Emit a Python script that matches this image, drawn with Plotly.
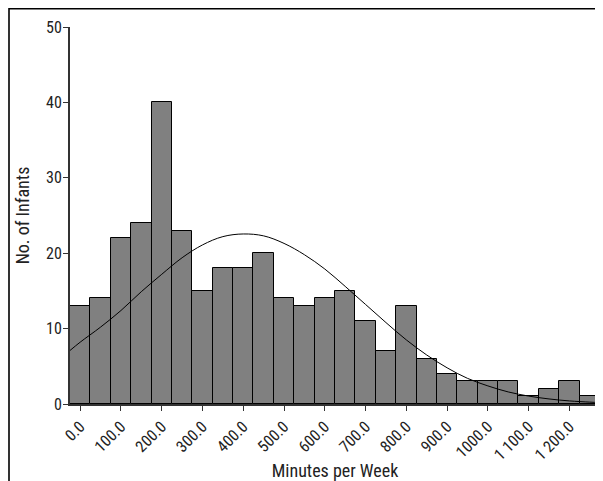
import plotly.graph_objects as go

# Histogram bins (bin centres, minutes per week) and counts
bin_centers = [0, 50, 100, 150, 200, 250, 300, 350, 400, 450, 500, 550, 600,
               650, 700, 750, 800, 850, 900, 950, 1000, 1050, 1100, 1150, 1200, 1250]
counts = [13, 14, 22, 24, 40, 23, 15, 18, 18, 20, 14, 13, 14,
          15, 11, 7, 13, 6, 4, 3, 3, 3, 1, 2, 3, 1]

# Fitted curve
curve_x = [-25, 0, 50, 100, 150, 200, 250, 300, 350, 400, 450, 500, 550, 600,
           650, 700, 750, 800, 850, 900, 950, 1000, 1050, 1100, 1150, 1200, 1250, 1275]
curve_y = [7.1, 8.2, 10.2, 12.4, 14.9, 17.2, 19.4, 21.1, 22.2, 22.55, 22.3, 21.3, 19.8, 17.9,
           15.6, 13.2, 10.8, 8.5, 6.5, 4.8, 3.4, 2.4, 1.6, 1.05, 0.67, 0.41, 0.25, 0.19]

tick_vals = [0, 100, 200, 300, 400, 500, 600, 700, 800, 900, 1000, 1100, 1200]
tick_text = ["0.0", "100.0", "200.0", "300.0", "400.0", "500.0", "600.0", "700.0",
             "800.0", "900.0", "1000.0", "1 100.0", "1 200.0"]
y_ticks = [0, 10, 20, 30, 40, 50]

FONT = "Liberation Sans Narrow, Arial Narrow, Roboto Condensed, Liberation Sans, sans-serif"

fig = go.Figure()
fig.add_trace(go.Bar(
    x=bin_centers, y=counts, width=50,
    marker=dict(color="#808080", line=dict(color="#000000", width=1)),
    showlegend=False, hoverinfo="x+y",
))
fig.add_trace(go.Scatter(
    x=curve_x, y=curve_y, mode="lines", line=dict(color="#000000", width=1, shape="spline"),
    showlegend=False, hoverinfo="skip",
))

# the page body adds an 8 px offset, so the figure is drawn 8 px smaller / shifted
OFF = 8
W, H = 603 - OFF, 481 - OFF
L, R, T, B = 70 - OFF, 3, 27 - OFF, 77
pw, ph = W - L - R, H - T - B

def px(x):
    # figure-pixel x -> paper
    return (x - L) / pw

def py(y):
    # figure-pixel y -> paper
    return (H - B - y) / ph

fig.update_layout(
    width=W, height=H,
    margin=dict(l=L, r=R, t=T, b=B, pad=0, autoexpand=False),
    paper_bgcolor="white", plot_bgcolor="white",
    font=dict(family=FONT, size=16, color="#222222"),
    bargap=0,
    xaxis=dict(
        range=[-25, 1275], tickmode="array", tickvals=tick_vals, ticktext=tick_text,
        tickangle=-45, ticks="outside", ticklen=5, tickcolor="#333333", automargin=False,
        showline=True, linecolor="#333333", linewidth=2, showgrid=False, zeroline=False,
        title=dict(text="Minutes per Week", font=dict(family=FONT, size=18), standoff=4),
        tickfont=dict(family=FONT, size=16),
    ),
    yaxis=dict(
        range=[0, 50], tickmode="array", tickvals=y_ticks, automargin=False,
        ticks="outside", ticklen=5, tickcolor="#333333", ticklabelstandoff=-2,
        showline=True, linecolor="#333333", linewidth=2, showgrid=False, zeroline=False,
        title=dict(text="No. of Infants", font=dict(family=FONT, size=18), standoff=12),
        tickfont=dict(family=FONT, size=16),
    ),
    shapes=[dict(
        type="rect", xref="paper", yref="paper",
        x0=px(1), x1=px(640), y0=py(520), y1=py(0.8),
        line=dict(color="#000000", width=1.6), fillcolor="rgba(0,0,0,0)", layer="below",
    )],
)

fig.write_html("out.html")
